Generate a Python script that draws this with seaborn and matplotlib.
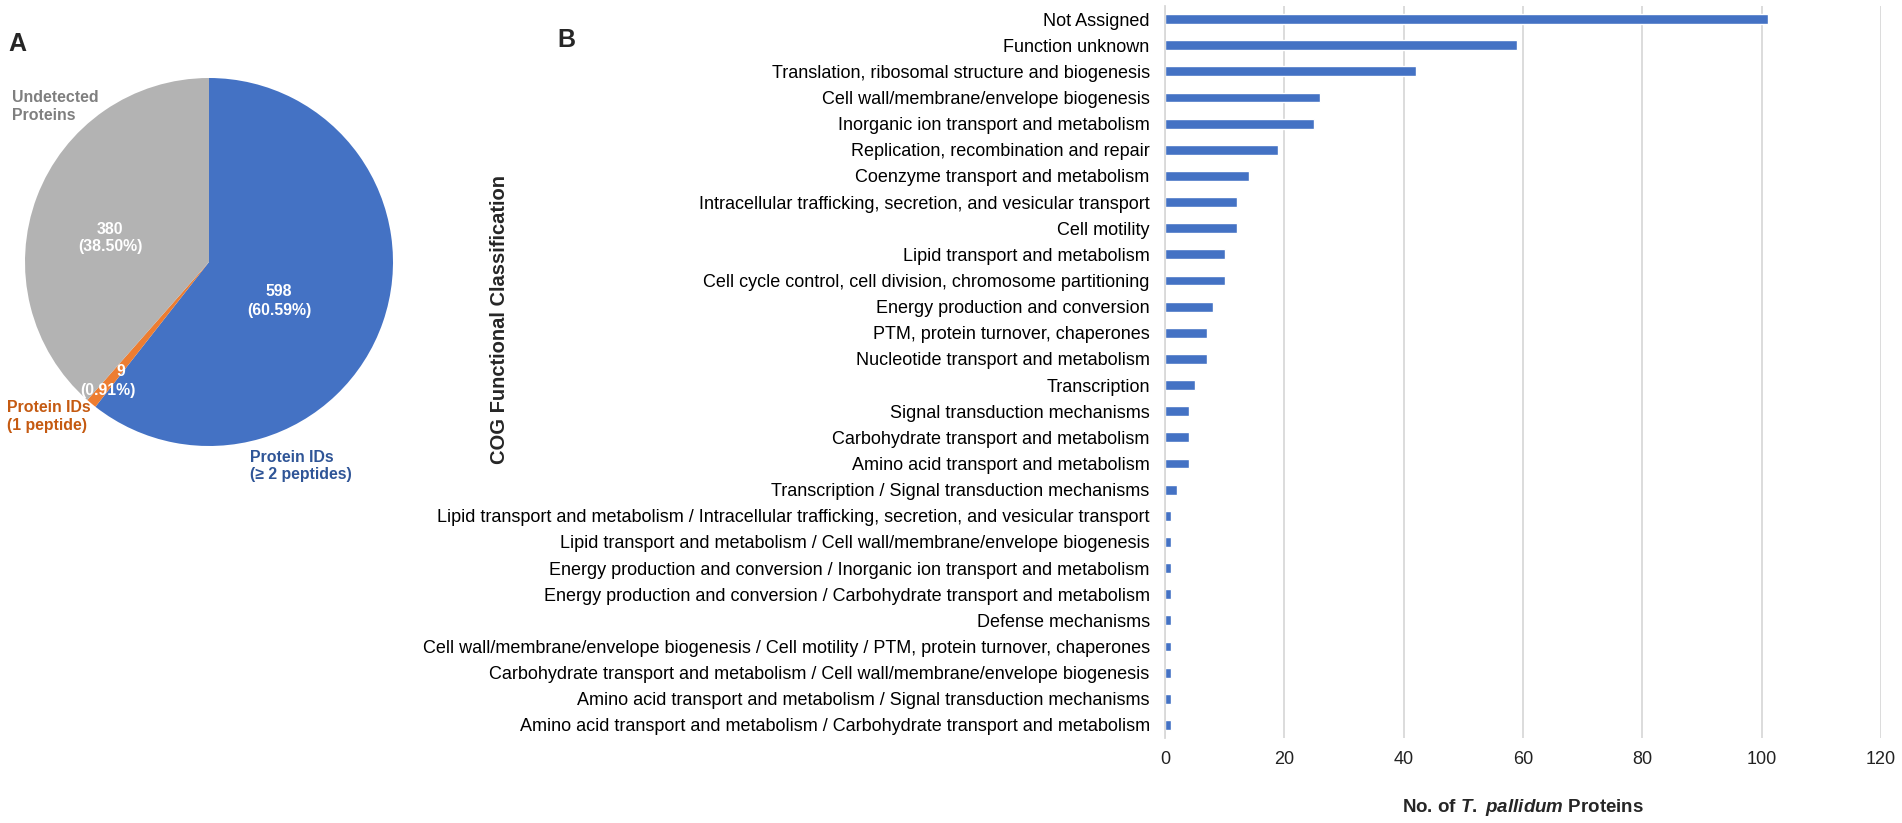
# Fig: proteome coverage (pie) + COG classes (bars)

import matplotlib
matplotlib.use('Agg')
import matplotlib.pyplot as plt
import seaborn as sns
import pandas as pd

# dados
pie_labels = ['Protein IDs\n(\u2265 2 peptides)', 'Protein IDs\n(1 peptide)', 'Undetected\nProteins']
pie_values = [598, 9, 380]

categorias = [
    'Not Assigned',
    'Function unknown',
    'Translation, ribosomal structure and biogenesis',
    'Cell wall/membrane/envelope biogenesis',
    'Inorganic ion transport and metabolism',
    'Replication, recombination and repair',
    'Coenzyme transport and metabolism',
    'Intracellular trafficking, secretion, and vesicular transport',
    'Cell motility',
    'Lipid transport and metabolism',
    'Cell cycle control, cell division, chromosome partitioning',
    'Energy production and conversion',
    'PTM, protein turnover, chaperones',
    'Nucleotide transport and metabolism',
    'Transcription',
    'Signal transduction mechanisms',
    'Carbohydrate transport and metabolism',
    'Amino acid transport and metabolism',
    'Transcription / Signal transduction mechanisms',
    'Lipid transport and metabolism / Intracellular trafficking, secretion, and vesicular transport',
    'Lipid transport and metabolism / Cell wall/membrane/envelope biogenesis',
    'Energy production and conversion / Inorganic ion transport and metabolism',
    'Energy production and conversion / Carbohydrate transport and metabolism',
    'Defense mechanisms',
    'Cell wall/membrane/envelope biogenesis / Cell motility / PTM, protein turnover, chaperones',
    'Carbohydrate transport and metabolism / Cell wall/membrane/envelope biogenesis',
    'Amino acid transport and metabolism / Signal transduction mechanisms',
    'Amino acid transport and metabolism / Carbohydrate transport and metabolism',
]
contagens = [101, 59, 42, 26, 25, 19, 14, 12, 12, 10, 10, 8, 7, 7, 5, 4, 4, 4, 2,
             1, 1, 1, 1, 1, 1, 1, 1, 1]
x_ticks = [0, 20, 40, 60, 80, 100, 120]

sns.set_style('white')
plt.rcParams['font.family'] = ['Liberation Sans', 'DejaVu Sans']
plt.rcParams['mathtext.fontset'] = 'custom'
plt.rcParams['mathtext.it'] = 'Liberation Sans:italic:bold'
plt.rcParams['mathtext.rm'] = 'Liberation Sans:bold'

W, H = 1902, 823
fig = plt.figure(figsize=(W / 100, H / 100), dpi=100)

def fx(px):
    return px / W

def fy(py):
    return 1 - py / H

# --- A: pie ---
cores_pie = ['#4472C4', '#ED7D31', '#B3B3B3']
ax_pie = fig.add_axes([fx(25), fy(446), 368 / W, 368 / H])
ax_pie.pie(pie_values, colors=cores_pie, startangle=90, counterclock=False,
           radius=1, wedgeprops=dict(linewidth=0))
ax_pie.set_xlim(-1, 1)
ax_pie.set_ylim(-1, 1)
ax_pie.set_aspect('equal')
ax_pie.axis('off')

total = sum(pie_values)
pct = [v / total * 100 for v in pie_values]
lbl_kw = dict(color='white', fontsize=11.4, fontweight='bold', ha='center', va='center')
fig.text(fx(279), fy(301), f'{pie_values[0]}\n({pct[0]:.2f}%)', linespacing=1.25, **lbl_kw)
fig.text(fx(110), fy(238), f'{pie_values[2]}\n({pct[2]:.2f}%)', linespacing=1.25, **lbl_kw)
fig.text(fx(121), fy(371), f'{pie_values[1]}', **lbl_kw)
fig.text(fx(108), fy(391), f'({pct[1]:.2f}%)', **lbl_kw)

out_kw = dict(fontsize=11.4, fontweight='bold', ha='left', va='center', linespacing=1.25)
fig.text(fx(250), fy(466), pie_labels[0], color='#2F5597', **out_kw)
fig.text(fx(7), fy(417), pie_labels[1], color='#C55A11', **out_kw)
fig.text(fx(12), fy(107), pie_labels[2], color='#7F7F7F', **out_kw)

fig.text(fx(8), fy(44), 'A', fontsize=18, fontweight='bold', ha='left', va='center')
fig.text(fx(557), fy(40), 'B', fontsize=18, fontweight='bold', ha='left', va='center')

# --- B: barras ---
df = pd.DataFrame({'categoria': categorias, 'n': contagens})
ax = fig.add_axes([fx(1165), fy(738), (1881 - 1165) / W, (738 - 6) / H])
sns.barplot(data=df, x='n', y='categoria', color='#4472C4', width=0.38,
            saturation=1, ax=ax)
ax.set_xlim(0, 120)
ax.set_ylim(len(categorias) - 0.5, -0.5)
ax.set_xticks(x_ticks)
ax.set_xlabel('')
ax.set_ylabel('')
ax.xaxis.grid(True, color='#D9D9D9', linewidth=1.3)
ax.set_axisbelow(True)
for s in ['top', 'right', 'bottom']:
    ax.spines[s].set_visible(False)
ax.spines['left'].set_color('#D9D9D9')
ax.spines['left'].set_linewidth(1.3)
ax.tick_params(axis='y', length=0, pad=11, labelsize=13, labelcolor='black')
ax.tick_params(axis='x', length=0, pad=9, labelsize=13, labelcolor='#222222')

fig.text(fx(1523), fy(808), 'No. of $\\mathit{T.}$ $\\mathit{pallidum}$ Proteins',
         fontsize=13.5, fontweight='bold', ha='center', va='center')
fig.text(fx(500), fy(319), 'COG Functional Classification', rotation=90,
         fontsize=14.5, fontweight='bold', ha='center', va='center')

fig.savefig('out.png', dpi=100)
